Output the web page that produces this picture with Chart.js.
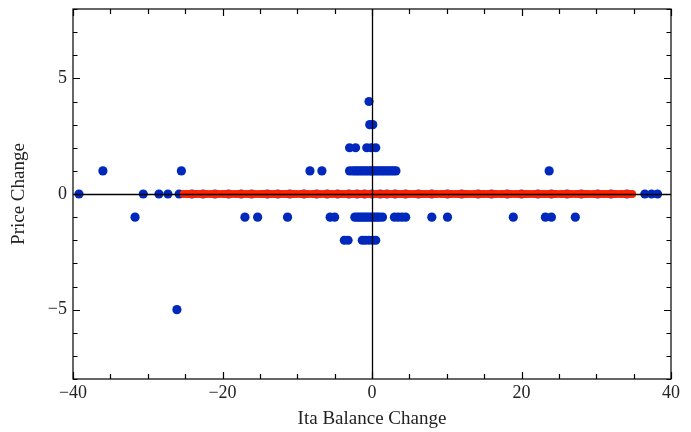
<!DOCTYPE html>
<html lang="en">
<head>
  <meta charset="UTF-8" />
  <title>Price Change vs Ita Balance Change</title>
  <style>
    html, body { margin: 0; padding: 0; background: #fff; }
    #wrap { width: 691px; height: 432px; }
  </style>
</head>
<body>
  <div id="wrap"><canvas id="chart" width="691" height="432"></canvas></div>

  <script src="https://cdn.jsdelivr.net/npm/chart.js@4.4.1/dist/chart.umd.min.js"></script>
  <script>
    // Ita balance change for each observed price change level
    const itaUp4 = [-0.4];
    const itaUp3 = [-0.3, 0.1];
    const itaUp2 = [-3.0, -2.2, -0.7, -0.1, 0.5];
    const itaUp1 = [-36.0, -25.5, -8.3, -6.7, -3.0, -2.6, -2.3, -2.0, -1.7, -1.4, -1.1, -0.8, -0.5,
                    -0.2, 0.0, 0.2, 0.5, 0.8, 1.1, 1.4, 1.7, 2.0, 2.3, 2.6, 2.9, 3.2, 23.7];
    const itaZero = [-39.2, -30.6, -28.5, -27.3, -25.8, -24.1, -22.6, -21.0, -19.2, -17.5, -16.1,
                     -14.0, -12.6, -11.0, -9.1, -7.4, -6.0, -4.6, -3.1, -2.0, -1.0, 0.0, 1.1, 2.0,
                     3.1, 4.5, 6.2, 8.0, 10.1, 12.0, 14.2, 16.0, 18.1, 20.0, 22.2, 24.0, 26.1,
                     28.0, 30.2, 32.0, 34.1, 36.5, 37.4, 38.2];
    const itaDown1 = [-31.7, -17.0, -15.3, -11.3, -5.6, -5.0, -2.3, -2.0, -1.7, -1.4, -1.1, -0.8,
                      -0.5, -0.2, 0.1, 0.4, 0.7, 1.0, 1.4, 3.0, 3.5, 4.0, 4.5, 8.0, 10.1, 18.9,
                      23.2, 24.0, 27.2];
    const itaDown2 = [-3.7, -3.2, -1.3, -0.9, -0.4, 0.1, 0.5];
    const itaDown5 = [-26.1];
    const priceLevels = [4, 3, 2, 1, 0, -1, -2, -5];

    // model points, all at zero price change
    const modelIta = [-25.2, -24.8, -24.5, -24.1, -23.6, -23.3, -22.9, -22.5, -22.1, -21.6, -21.2,
                      -20.9, -20.5, -20.0, -19.6, -19.3, -18.9, -18.4, -18.0, -17.7, -17.3, -16.8,
                      -16.4, -16.1, -15.7, -15.2, -14.8, -14.5, -14.1, -13.6, -13.2, -12.9, -12.5,
                      -12.0, -11.6, -11.2, -10.8, -10.5, -10.1, -9.6, -9.2, -8.9, -8.5, -8.0, -7.6,
                      -7.3, -6.9, -6.4, -6.0, -5.7, -5.3, -4.8, -4.4, -4.1, -3.7, -3.2, -2.8, -2.5,
                      -2.1, -1.6, -1.2, -0.9, -0.5, -0.1, 0.4, 0.7, 1.1, 1.6, 2.0, 2.3, 2.7, 3.2,
                      3.6, 4.0, 4.4, 4.7, 5.1, 5.6, 6.0, 6.3, 6.8, 7.1, 7.5, 8.0, 8.4, 8.7, 9.2,
                      9.5, 10.0, 10.3, 10.7, 11.2, 11.6, 11.9, 12.4, 12.7, 13.1, 13.6, 14.0, 14.3,
                      14.8, 15.1, 15.5, 16.0, 16.4, 16.7, 17.2, 17.5, 18.0, 18.3, 18.7, 19.2, 19.6,
                      19.9, 20.4, 20.7, 21.1, 21.6, 22.0, 22.3, 22.8, 23.1, 23.5, 24.0, 24.4, 24.7,
                      25.2, 25.5, 26.0, 26.3, 26.7, 27.2, 27.6, 27.9, 28.4, 28.7, 29.1, 29.6, 30.0,
                      30.3, 30.8, 31.1, 31.5, 32.0, 32.4, 32.7, 33.2, 33.5, 34.0, 34.4, 34.8];

    const xTicks = [-40, -20, 0, 20, 40];
    const yTicks = [-5, 0, 5];

    const blueColor = 'rgb(0, 40, 188)';
    const redColor = 'rgb(255, 34, 0)';
    const serif = '"Liberation Serif", "DejaVu Serif", serif';

    const observed = [];
    [itaUp4, itaUp3, itaUp2, itaUp1, itaZero, itaDown1, itaDown2, itaDown5].forEach((row, i) => {
      row.forEach(x => observed.push({ x: x, y: priceLevels[i] }));
    });
    const model = modelIta.map(x => ({ x: x, y: 0 }));

    const minus = v => String(v).replace('-', '\u2212');

    // frame with inward ticks, plus the axes through the origin
    const framePlugin = {
      id: 'frame',
      afterDatasetsDraw(chart) {
        const { ctx, chartArea: a, scales: { x, y } } = chart;
        ctx.save();
        ctx.strokeStyle = '#000';
        ctx.lineWidth = 1.3;

        const x0 = Math.round(x.getPixelForValue(0)) + 0.5;
        const y0 = Math.round(y.getPixelForValue(0)) + 0.5;
        ctx.beginPath();
        ctx.moveTo(x0, a.top); ctx.lineTo(x0, a.bottom);
        ctx.moveTo(a.left, y0); ctx.lineTo(a.right, y0);
        ctx.stroke();

        ctx.lineWidth = 1.2;
        ctx.strokeRect(a.left, a.top, a.right - a.left, a.bottom - a.top);

        ctx.beginPath();
        for (let v = -40; v <= 40; v += 5) {
          const px = Math.round(x.getPixelForValue(v)) + 0.5;
          const len = v % 20 === 0 ? 7 : 5;
          ctx.moveTo(px, a.bottom); ctx.lineTo(px, a.bottom - len);
          ctx.moveTo(px, a.top); ctx.lineTo(px, a.top + len);
        }
        for (let v = -8; v <= 8; v += 1) {
          const py = Math.round(y.getPixelForValue(v)) + 0.5;
          const len = v % 5 === 0 ? 7 : 4.5;
          ctx.moveTo(a.left, py); ctx.lineTo(a.left + len, py);
          ctx.moveTo(a.right, py); ctx.lineTo(a.right - len, py);
        }
        ctx.stroke();
        ctx.restore();
      }
    };

    new Chart(document.getElementById('chart'), {
      type: 'scatter',
      data: {
        datasets: [
          {
            label: 'model',
            data: model,
            backgroundColor: redColor,
            pointRadius: 4.0,
            borderWidth: 0,
            order: 0
          },
          {
            label: 'observed',
            data: observed,
            backgroundColor: blueColor,
            pointRadius: 4.6,
            borderWidth: 0,
            order: 1
          }
        ]
      },
      options: {
        responsive: false,
        animation: false,
        layout: { padding: { top: 9, right: 20, left: 0, bottom: 0 } },
        plugins: {
          legend: { display: false },
          tooltip: { enabled: false }
        },
        scales: {
          x: {
            type: 'linear',
            min: -40,
            max: 40,
            afterBuildTicks: s => { s.ticks = xTicks.map(v => ({ value: v })); },
            afterFit: s => { s.height = 53; s.paddingLeft = 0; s.paddingRight = 0; },
            grid: { display: false, drawTicks: false },
            border: { display: false },
            ticks: {
              padding: 3,
              maxRotation: 0,
              color: '#222',
              font: { family: serif, size: 18 },
              callback: v => minus(v)
            },
            title: {
              display: true,
              text: 'Ita Balance Change',
              color: '#222',
              font: { family: serif, size: 19 },
              padding: { top: 0, bottom: 2 }
            }
          },
          y: {
            type: 'linear',
            min: -8,
            max: 8,
            afterBuildTicks: s => { s.ticks = yTicks.map(v => ({ value: v })); },
            afterFit: s => { s.width = 73; s.paddingTop = 0; s.paddingBottom = 0; },
            grid: { display: false, drawTicks: false },
            border: { display: false },
            ticks: {
              padding: 6,
              color: '#222',
              font: { family: serif, size: 18 },
              callback: v => minus(v)
            },
            title: {
              display: true,
              text: 'Price Change',
              color: '#222',
              font: { family: serif, size: 19 },
              padding: { top: 8, bottom: 0 }
            }
          }
        }
      },
      plugins: [framePlugin]
    });
  </script>
</body>
</html>
